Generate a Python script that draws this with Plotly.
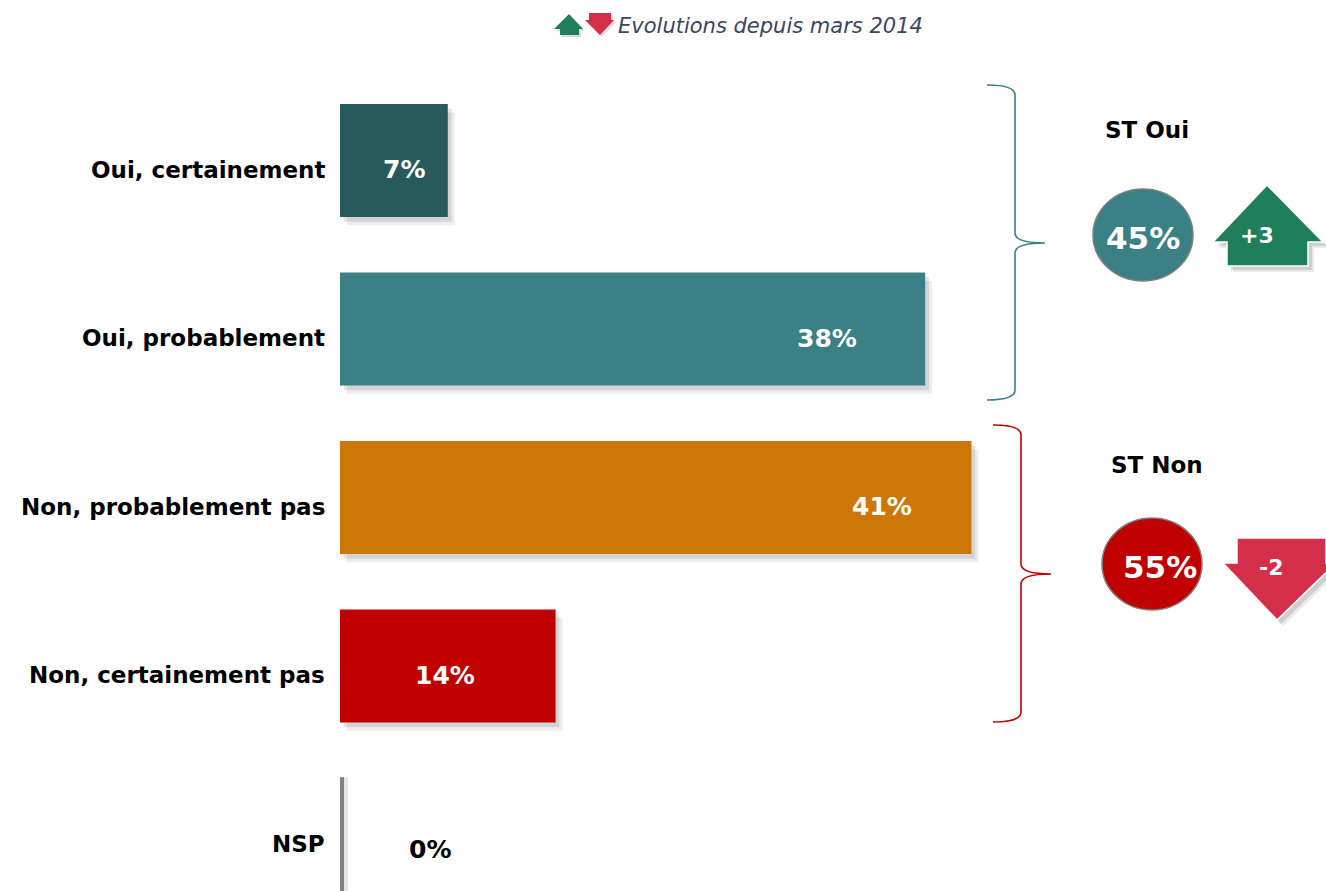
import plotly.graph_objects as go

# ---------------- data ----------------
categories = ["Oui, certainement", "Oui, probablement", "Non, probablement pas",
              "Non, certainement pas", "NSP"]
values = [7, 38, 41, 14, 0]
value_labels = ["7%", "38%", "41%", "14%", "0%"]
st_labels = ["ST Oui", "ST Non"]
st_values = ["45%", "55%"]
evolutions = ["+3", "-2"]
title_text = "Evolutions depuis mars 2014"

# ---------------- style ----------------
bar_colors = ["#265A5C", "#3A8084", "#CC7706", "#C00000", "#808080"]
label_shift = [-44, -98, -89, -111, 90]   # px from bar end to value-label centre
FONT = "DejaVu Sans"
W, H = 1326, 891
L = 340
PX_PER_UNIT = 15.4
Y0, DY = 160.5, 168.5

xr = [0, (W - L) / PX_PER_UNIT]
yr = [(H - Y0) / DY, -Y0 / DY]

def px(x):
    return (x - L) / (W - L)

def py(y):
    return 1 - y / H

fig = go.Figure()
ypos = list(range(len(categories)))
fig.add_trace(go.Bar(
    x=values[:4], y=ypos[:4], orientation="h", width=0.67,
    marker=dict(color=bar_colors[:4], line=dict(width=0)),
    hoverinfo="skip", showlegend=False,
))

shapes = []
annotations = []

# shadows for bars
for i, v in enumerate(values[:4]):
    for k, a in [(0.45, 0.07), (0.25, 0.10)]:
        shapes.append(dict(type="rect", xref="x", yref="y", layer="below",
                           x0=k, x1=v + k, y0=i - 0.335 + k / 9, y1=i + 0.335 + k / 9,
                           line=dict(width=0), fillcolor=f"rgba(0,0,0,{a})"))

# NSP zero bar (thin gray line)
i = 4
shapes.append(dict(type="rect", xref="x", yref="y", xsizemode="pixel", xanchor=values[i],
                   x0=2, x1=8, y0=i - 0.34, y1=i + 0.36, line=dict(width=0),
                   fillcolor="rgba(0,0,0,0.10)", layer="below"))
shapes.append(dict(type="rect", xref="x", yref="y", xsizemode="pixel", xanchor=values[i],
                   x0=0, x1=4, y0=i - 0.34, y1=i + 0.36, line=dict(width=0),
                   fillcolor=bar_colors[i]))

# category labels and value labels
for i, (c, v, lab) in enumerate(zip(categories, values, value_labels)):
    annotations.append(dict(xref="paper", yref="y", x=0, y=i, xanchor="right",
                            yanchor="middle", xshift=-13, yshift=-9,
                            text=f"<b>{c}</b>", showarrow=False,
                            font=dict(family=FONT, size=23, color="#000000")))
    annotations.append(dict(xref="x", yref="y", x=v, y=i, xanchor="center",
                            yanchor="middle", xshift=label_shift[i],
                            yshift=-9 if v > 0 else -15, text=f"<b>{lab}</b>",
                            showarrow=False,
                            font=dict(family=FONT, size=25,
                                      color="#FFFFFF" if v > 0 else "#000000")))

# braces
def brace(xl, yt, yb, ym, xv, xt, color):
    r = 10
    p = (f"M {px(xl)},{py(yt)} Q {px(xv)},{py(yt)} {px(xv)},{py(yt + r)} "
         f"L {px(xv)},{py(ym - r)} Q {px(xv)},{py(ym)} {px(xt)},{py(ym)} "
         f"Q {px(xv)},{py(ym)} {px(xv)},{py(ym + r)} "
         f"L {px(xv)},{py(yb - r)} Q {px(xv)},{py(yb)} {px(xl)},{py(yb)}")
    return dict(type="path", xref="paper", yref="paper", path=p,
                line=dict(color=color, width=1.6))

shapes.append(brace(987, 85, 400, 243, 1015, 1045, "#3A8084"))
shapes.append(brace(993, 425, 722, 574, 1021, 1051, "#C00000"))

# circles
circles = [((1143, 235), "#3A8084"), ((1152, 564), "#C00000")]
for (cx, cy), col in circles:
    shapes.append(dict(type="circle", xref="paper", yref="paper",
                       x0=px(cx - 50), x1=px(cx + 50), y0=py(cy + 46), y1=py(cy - 46),
                       fillcolor=col, line=dict(color="#7F7F7F", width=1.5)))

for (cx, cy), s in zip([(1143, 238), (1160, 567)], st_values):
    annotations.append(dict(xref="paper", yref="paper", x=px(cx), y=py(cy),
                            xanchor="center", yanchor="middle",
                            text=f"<b>{s}</b>", showarrow=False,
                            font=dict(family=FONT, size=31, color="#FFFFFF")))

for (x, y), s in zip([(1147, 130), (1157, 465)], st_labels):
    annotations.append(dict(xref="paper", yref="paper", x=px(x), y=py(y),
                            xanchor="center", yanchor="middle",
                            text=f"<b>{s}</b>", showarrow=False,
                            font=dict(family=FONT, size=23, color="#000000")))

def poly(pts, color, line=None):
    p = "M " + " L ".join(f"{px(x)},{py(y)}" for x, y in pts) + " Z"
    return dict(type="path", xref="paper", yref="paper", path=p, fillcolor=color,
                line=line or dict(width=0))

up = [(1267, 185), (1323, 242), (1308, 242), (1308, 266), (1227, 266), (1227, 242), (1213, 242)]
down = [(1237, 538), (1326, 538), (1326, 563), (1336, 563), (1277, 620), (1223, 563), (1237, 563)]
for dx, dy, a in [(6, 6, 0.08), (4, 4, 0.12)]:
    shapes.append(poly([(x + dx, y + dy) for x, y in up], f"rgba(0,0,0,{a})"))
    shapes.append(poly([(x + dx, y + dy) for x, y in down], f"rgba(0,0,0,{a})"))
shapes.append(poly(up, "#1E7F5A", dict(color="#FFFFFF", width=1.5)))
shapes.append(poly(down, "#D32F4A", dict(color="#FFFFFF", width=1.5)))
for (x, y), s in zip([(1257, 235), (1271, 567)], evolutions):
    annotations.append(dict(xref="paper", yref="paper", x=px(x), y=py(y),
                            xanchor="center", yanchor="middle",
                            text=f"<b>{s}</b>", showarrow=False,
                            font=dict(family=FONT, size=22, color="#FFFFFF")))

# title icons
t_up = [(569, 14), (583, 29), (579, 29), (579, 35), (560, 35), (560, 29), (554, 29)]
t_down = [(589, 13), (611, 13), (611, 20), (614, 20), (600, 35), (585, 20), (589, 20)]
shapes.append(poly([(x + 2, y + 2) for x, y in t_up], "rgba(0,0,0,0.15)"))
shapes.append(poly([(x + 2, y + 2) for x, y in t_down], "rgba(0,0,0,0.15)"))
shapes.append(poly(t_up, "#1E7F5A"))
shapes.append(poly(t_down, "#D32F4A"))
annotations.append(dict(xref="paper", yref="paper", x=px(616), y=py(26),
                        xanchor="left", yanchor="middle",
                        text=f"<i>{title_text}</i>", showarrow=False,
                        font=dict(family=FONT, size=21, color="#3A4565")))

fig.update_layout(
    width=W, height=H,
    margin=dict(l=L, r=0, t=0, b=0, pad=0),
    plot_bgcolor="#FFFFFF", paper_bgcolor="#FFFFFF",
    xaxis=dict(range=xr, visible=False, fixedrange=True),
    yaxis=dict(range=yr, visible=False, fixedrange=True),
    shapes=shapes, annotations=annotations,
    showlegend=False,
)

fig.write_html("out.html", config={"displayModeBar": False},
               post_script="document.body.style.margin='0';")
